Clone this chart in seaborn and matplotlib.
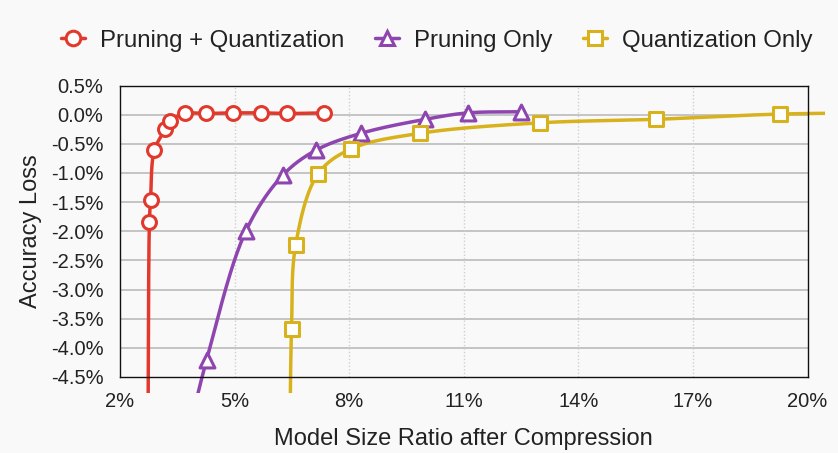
import numpy as np
import pandas as pd
import matplotlib
matplotlib.use("Agg")
import matplotlib.pyplot as plt
import seaborn as sns
from matplotlib.lines import Line2D
from matplotlib.patches import Rectangle

# ---- data (model size ratio %, accuracy loss %) ----
pq_x = [2.73, 2.77, 2.80, 2.90, 3.19, 3.31, 3.70, 4.25, 4.97, 5.69, 6.36, 7.35]
pq_y = [-6.0, -1.84, -1.46, -0.61, -0.25, -0.11, 0.02, 0.02, 0.03, 0.03, 0.02, 0.03]
po_x = [3.60, 4.27, 5.30, 6.26, 7.13, 8.31, 9.99, 11.10, 12.49]
po_y = [-6.0, -4.20, -1.99, -1.04, -0.61, -0.32, -0.08, 0.03, 0.05]
qo_x = [6.44, 6.49, 6.60, 7.18, 8.04, 9.85, 13.00, 16.03, 19.28, 22.0]
qo_y = [-6.0, -3.68, -2.23, -1.02, -0.59, -0.32, -0.14, -0.08, 0.01, 0.03]

series_names = ["Pruning + Quantization", "Pruning Only", "Quantization Only"]
x_ticks = [2, 5, 8, 11, 14, 17, 20]
x_tick_labels = ["2%", "5%", "8%", "11%", "14%", "17%", "20%"]
y_ticks = [0.5, 0.0, -0.5, -1.0, -1.5, -2.0, -2.5, -3.0, -3.5, -4.0, -4.5]
y_tick_labels = ["0.5%", "0.0%", "-0.5%", "-1.0%", "-1.5%", "-2.0%", "-2.5%",
                 "-3.0%", "-3.5%", "-4.0%", "-4.5%"]

colors = ["#E2392E", "#8E45B0", "#D8B21C"]
markers = ["o", "^", "s"]


def smooth(xs, ys, n=40, kx=38.2, ky=58.3):
    """Centripetal Catmull-Rom path through the points (rendering only)."""
    P = np.column_stack([np.asarray(xs) * kx, np.asarray(ys) * ky])
    P = np.vstack([2 * P[0] - P[1], P, 2 * P[-1] - P[-2]])
    out = []
    for i in range(1, len(P) - 2):
        p0, p1, p2, p3 = P[i - 1], P[i], P[i + 1], P[i + 2]
        a = 0.5
        t0 = 0.0
        t1 = t0 + max(np.linalg.norm(p1 - p0), 1e-6) ** a
        t2 = t1 + max(np.linalg.norm(p2 - p1), 1e-6) ** a
        t3 = t2 + max(np.linalg.norm(p3 - p2), 1e-6) ** a
        t = np.linspace(t1, t2, n)[:, None]
        A1 = (t1 - t) / (t1 - t0) * p0 + (t - t0) / (t1 - t0) * p1
        A2 = (t2 - t) / (t2 - t1) * p1 + (t - t1) / (t2 - t1) * p2
        A3 = (t3 - t) / (t3 - t2) * p2 + (t - t2) / (t3 - t2) * p3
        B1 = (t2 - t) / (t2 - t0) * A1 + (t - t0) / (t2 - t0) * A2
        B2 = (t3 - t) / (t3 - t1) * A2 + (t - t1) / (t3 - t1) * A3
        C = (t2 - t) / (t2 - t1) * B1 + (t - t1) / (t2 - t1) * B2
        out.append(C if i == len(P) - 3 else C[:-1])
    C = np.vstack(out)
    return C[:, 0] / kx, C[:, 1] / ky


sns.set_theme(style="white")
plt.rcParams["font.family"] = ["Liberation Sans", "DejaVu Sans"]

W, H = 838, 453
fig = plt.figure(figsize=(W / 100, H / 100), dpi=100, facecolor="#F9F9F9")
ax = fig.add_axes([120 / W, 1 - 377 / H, (807.6 - 120) / W, (377 - 85.5) / H])
ax.set_facecolor("#F9F9F9")

ax.set_xlim(2, 20)
ax.set_ylim(-4.5, 0.5)

# grid
for yv in y_ticks[1:-1]:
    ax.axhline(yv, color="#C4C4C4", lw=1.4, zorder=1)
for xv in x_ticks[1:-1]:
    ax.axvline(xv, color="#CFCFCF", lw=1.0, ls=(0, (1, 1.5)), zorder=1)

# clip region slightly larger than the axes (lines run past the frame)
pad_x, pad_y = 17 / W, 16 / H
pos = ax.get_position()
clip = Rectangle((pos.x0 - pad_x, pos.y0 - pad_y), pos.width + 2 * pad_x,
                 pos.height + 2 * pad_y, transform=fig.transFigure)

all_x = [pq_x, po_x, qo_x]
all_y = [pq_y, po_y, qo_y]
for name, xs, ys, c, m in zip(series_names, all_x, all_y, colors, markers):
    sx, sy = smooth(xs, ys)
    df_line = pd.DataFrame({"x": sx, "y": sy})
    sns.lineplot(data=df_line, x="x", y="y", sort=False, estimator=None,
                 color=c, lw=2.5, ax=ax, zorder=3)
    ax.lines[-1].set_clip_path(clip)
    df_pts = pd.DataFrame({"x": xs, "y": ys})
    msize = 100 if m != "^" else 115
    sns.scatterplot(data=df_pts, x="x", y="y", marker=m, s=msize,
                    facecolor="white", edgecolor=c, linewidth=2.2,
                    ax=ax, zorder=4)
    ax.collections[-1].set_clip_path(clip)

for sp in ax.spines.values():
    sp.set_color("#111111")
    sp.set_linewidth(1.0)
    sp.set_zorder(5)

ax.set_xticks(x_ticks)
ax.set_xticklabels(x_tick_labels)
ax.set_yticks(y_ticks)
ax.set_yticklabels(y_tick_labels)
ax.tick_params(axis="both", length=0, labelsize=14.5, colors="#222222")
ax.tick_params(axis="x", pad=11)
ax.tick_params(axis="y", pad=12)

ax.set_xlabel("Model Size Ratio after Compression", fontsize=17, color="#222222",
              labelpad=12)
ax.set_ylabel("Accuracy Loss", fontsize=17, color="#222222", labelpad=6)

handles = [Line2D([0], [0], color=c, marker=m, markersize=10.5, lw=2.5,
                  markerfacecolor="white", markeredgecolor=c, markeredgewidth=2.2)
           for c, m in zip(colors, markers)]
fig.legend(handles, series_names, loc="center", bbox_to_anchor=(0.521, 0.91),
           ncol=3, frameon=False, fontsize=17.3, handlelength=1.0,
           handletextpad=0.6, columnspacing=1.3, labelcolor="#222222")

fig.savefig("out.png", dpi=100, facecolor=fig.get_facecolor())
